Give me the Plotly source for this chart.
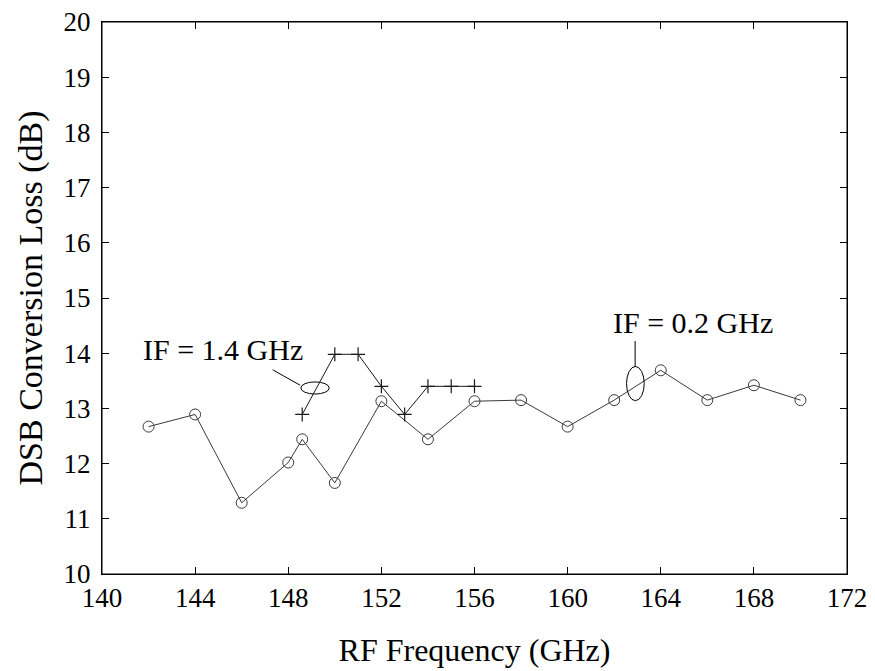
import plotly.graph_objects as go

# IF = 0.2 GHz series (open circles)
freq_02 = [142, 144, 146, 148, 148.6, 150, 152, 154, 156, 158, 160, 162, 164, 166, 168, 170]
loss_02 = [12.67, 12.89, 11.29, 12.02, 12.44, 11.65, 13.13, 12.44, 13.13, 13.15, 12.67, 13.15, 13.69, 13.15, 13.42, 13.15]

# IF = 1.4 GHz series (plus markers)
freq_14 = [148.6, 150, 151, 152, 153, 154, 155, 156]
loss_14 = [12.89, 13.98, 13.98, 13.40, 12.89, 13.40, 13.40, 13.40]

x_ticks = [140, 144, 148, 152, 156, 160, 164, 168, 172]
y_ticks = [10, 11, 12, 13, 14, 15, 16, 17, 18, 19, 20]

FONT = "Liberation Serif, Times New Roman, serif"

fig = go.Figure()
fig.add_trace(go.Scatter(
    x=freq_02, y=loss_02, mode="lines+markers",
    line=dict(color="#3a3a3a", width=1),
    marker=dict(symbol="circle-open", size=11, color="#3a3a3a", line=dict(width=1)),
    showlegend=False))
fig.add_trace(go.Scatter(
    x=freq_14, y=loss_14, mode="lines+markers",
    line=dict(color="#1a1a1a", width=1),
    marker=dict(symbol="cross-thin-open", size=10, color="#1a1a1a", line=dict(width=1.2)),
    showlegend=False))

# Plot frame
fig.add_shape(type="rect", xref="paper", yref="paper", x0=0, x1=1, y0=0, y1=1,
              line=dict(color="black", width=1), layer="above")

# Callout ellipses and leader lines
fig.add_shape(type="circle", xref="x", yref="y", x0=148.54, x1=149.76, y0=13.26, y1=13.48,
              line=dict(color="black", width=1))
fig.add_shape(type="line", xref="x", yref="y", x0=147.33, y0=13.70, x1=148.51, y1=13.42,
              line=dict(color="black", width=1))
fig.add_shape(type="circle", xref="x", yref="y", x0=162.53, x1=163.29, y0=13.14, y1=13.76,
              line=dict(color="black", width=1))
fig.add_shape(type="line", xref="x", yref="y", x0=162.9, y0=14.22, x1=162.9, y1=13.75,
              line=dict(color="black", width=1))

fig.add_annotation(x=145.18, y=14.07, xref="x", yref="y", text="IF = 1.4 GHz", showarrow=False,
                   font=dict(family=FONT, size=30, color="black"))
fig.add_annotation(x=165.39, y=14.55, xref="x", yref="y", text="IF = 0.2 GHz", showarrow=False,
                   font=dict(family=FONT, size=30, color="black"))

axis_common = dict(showline=True, linecolor="black", linewidth=1, mirror="ticks",
                   ticks="inside", ticklen=7, tickcolor="black", tickwidth=1,
                   showgrid=False, zeroline=False, automargin=False,
                   ticklabeloverflow="allow",
                   tickfont=dict(family=FONT, size=27, color="black"))

fig.update_xaxes(range=[140, 172], tickvals=x_ticks, ticktext=[str(v) for v in x_ticks],
                 title=dict(text="RF Frequency (GHz)", font=dict(family=FONT, size=32, color="black"), standoff=26),
                 **axis_common)
fig.update_yaxes(range=[10, 20], tickvals=y_ticks, ticktext=[str(v) for v in y_ticks],
                 ticklabelstandoff=5,
                 title=dict(text="DSB Conversion Loss (dB)", font=dict(family=FONT, size=34, color="black"), standoff=10),
                 **axis_common)

fig.update_layout(width=867, height=663, margin=dict(l=94, r=28, t=14, b=97),
                  plot_bgcolor="white", paper_bgcolor="white")

fig.write_html("out.html")
